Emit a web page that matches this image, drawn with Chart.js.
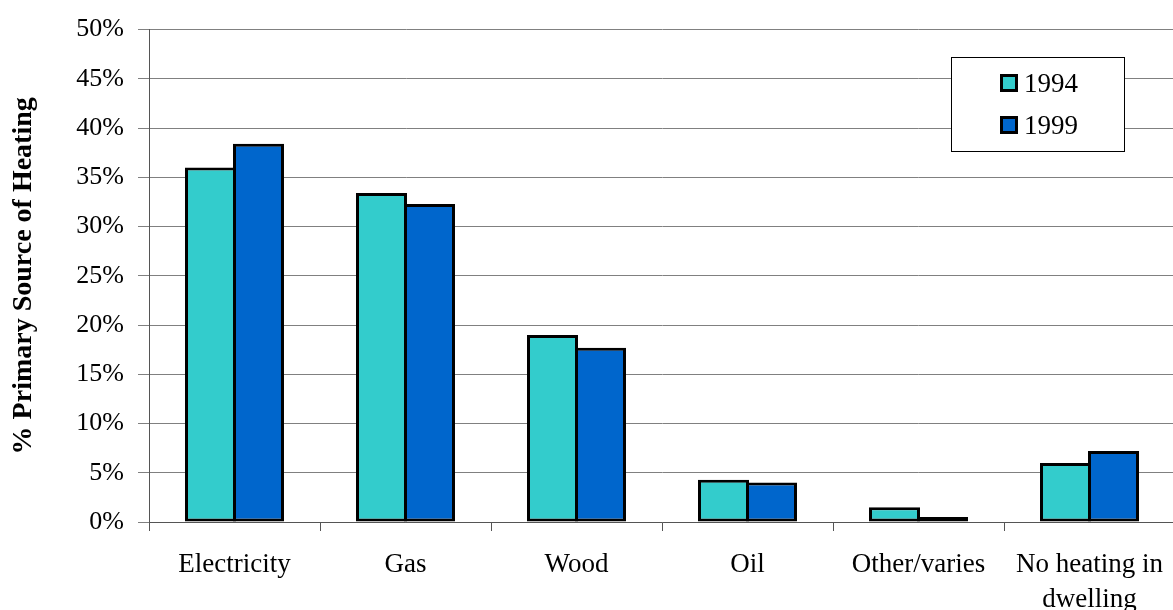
<!DOCTYPE html>
<html>
<head>
<meta charset="utf-8">
<script src="https://cdn.jsdelivr.net/npm/chart.js@4"></script>
<style>
  body { margin: 0; overflow: hidden; background: #fff; }
  #wrap { width: 1173px; height: 610px; overflow: hidden; }
</style>
</head>
<body>
<div id="wrap"><canvas id="grafico" width="1175" height="610"></canvas></div>
<script>
const categorias = ["Electricity", "Gas", "Wood", "Oil", "Other/varies", ["No heating in", "dwelling"]];
const anos = ["1994", "1999"];
const valores1994 = [36.0, 33.4, 19.0, 4.3, 1.5, 6.0];
const valores1999 = [38.4, 32.3, 17.7, 4.0, 0.5, 7.2];
const marcasY = [0, 5, 10, 15, 20, 25, 30, 35, 40, 45, 50];

const fonte = "'Liberation Serif', 'Times New Roman', serif";

// legenda dentro da area do grafico, com moldura
const legendaCaixa = {
  id: "legendaCaixa",
  afterDatasetsDraw(chart) {
    const ctx = chart.ctx;
    ctx.save();
    ctx.fillStyle = "#fff";
    ctx.fillRect(951, 57, 173, 94);
    ctx.strokeStyle = "#000";
    ctx.lineWidth = 1;
    ctx.strokeRect(951.5, 57.5, 173, 94);
    ctx.font = "27px " + fonte;
    ctx.textBaseline = "alphabetic";
    chart.data.datasets.forEach((ds, i) => {
      const y = 74 + i * 42;
      ctx.fillStyle = "#000";
      ctx.fillRect(1000, y, 18, 18);
      ctx.fillStyle = ds.backgroundColor;
      ctx.fillRect(1003, y + 3, 12, 12);
      ctx.fillStyle = "#000";
      ctx.fillText(ds.label, 1024, y + 18);
    });
    ctx.restore();
  },
};

const ctx = document.getElementById("grafico").getContext("2d");
const grafico = new Chart(ctx, {
  type: "bar",
  data: {
    labels: categorias,
    datasets: [
      {
        label: anos[0],
        data: valores1994,
        backgroundColor: "#33CCCC",
        borderColor: "#000",
        borderWidth: 3,
        borderSkipped: false,
      },
      {
        label: anos[1],
        data: valores1999,
        backgroundColor: "#0066CC",
        borderColor: "#000",
        borderWidth: 3,
        borderSkipped: false,
      },
    ],
  },
  options: {
    responsive: false,
    animation: false,
    categoryPercentage: 0.5614,
    barPercentage: 1.0625,
    layout: { padding: { top: 22, right: 0, left: 0, bottom: 0 } },
    plugins: {
      legend: { display: false },
      tooltip: { enabled: false },
    },
    scales: {
      x: {
        afterFit(scale) {
          scale.height = 88;
          scale.paddingLeft = 0;
          scale.paddingRight = 0;
        },
        grid: {
          offset: true,
          drawOnChartArea: false,
          drawTicks: true,
          tickLength: 9,
          color: "#555",
        },
        border: { display: true, color: "#555", width: 1 },
        ticks: {
          color: "#000",
          padding: 17,
          maxRotation: 0,
          autoSkip: false,
          font: { family: fonte, size: 27, lineHeight: 1.27 },
        },
      },
      y: {
        min: 0,
        max: 50,
        afterFit(scale) { scale.width = 149; },
        afterBuildTicks(scale) {
          scale.ticks = marcasY.map((v) => ({ value: v }));
        },
        grid: { color: "#808080", tickLength: 11, lineWidth: 1 },
        border: { display: true, color: "#555", width: 1 },
        ticks: {
          color: "#000",
          padding: 14,
          font: { family: fonte, size: 26 },
          callback: (v) => v + "%",
        },
        title: {
          display: true,
          text: "% Primary Source of Heating",
          color: "#000",
          padding: { top: 7, bottom: 40 },
          font: { family: fonte, size: 28, weight: "bold" },
        },
      },
    },
  },
  plugins: [legendaCaixa],
});
</script>
</body>
</html>
